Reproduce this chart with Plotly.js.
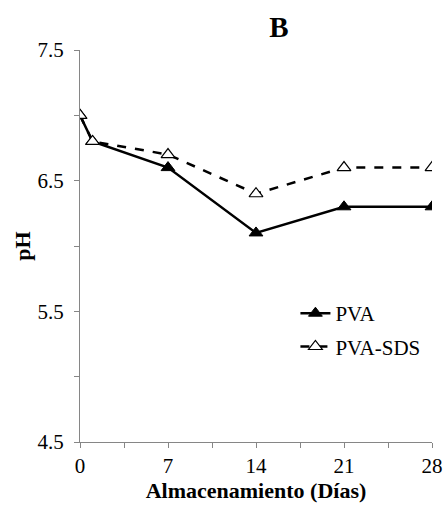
<!DOCTYPE html>
<html>
<head>
<meta charset="utf-8">
<script src="https://cdn.plot.ly/plotly-3.0.1.min.js"></script>
<style>
  html, body { margin: 0; padding: 0; background: #fff; }
  #chart { width: 446px; height: 506px; }
</style>
</head>
<body>
<div id="chart"></div>
<script>
// Storage time (days) and measured pH for each film formulation
const dias = [0, 1, 7, 14, 21, 28];
const phPVA = [7.0, 6.8, 6.6, 6.1, 6.3, 6.3];
const phPVASDS = [7.0, 6.8, 6.7, 6.4, 6.6, 6.6];
const nombres = ["PVA", "PVA-SDS"];
const xTicks = [0, 7, 14, 21, 28];
const yTicks = [4.5, 5.5, 6.5, 7.5];

const serif = "'Liberation Serif', 'Times New Roman', serif";

const traces = [
  {
    x: dias, y: phPVA, name: nombres[0], legendgroup: "a", type: "scatter", mode: "lines+markers",
    line: { color: "#000", width: 2.5 },
    marker: { symbol: "triangle-up", size: 12, color: "#000", line: { color: "#000", width: 1 } }
  },
  {
    x: dias, y: phPVASDS, name: nombres[1], legendgroup: "b", type: "scatter", mode: "lines+markers",
    line: { color: "#000", width: 2.5, dash: "dash" },
    marker: { symbol: "triangle-up", size: 12, color: "#fff", line: { color: "#000", width: 1.2 } }
  }
];

const axisCommon = {
  showgrid: false, zeroline: false, showline: true,
  linecolor: "#868686", linewidth: 1,
  ticks: "outside", ticklen: 5, tickcolor: "#868686", tickwidth: 1,
  tickfont: { family: serif, size: 21, color: "#000" }
};

const layout = {
  width: 446, height: 506,
  margin: { l: 80, r: 14, t: 50, b: 64 },
  paper_bgcolor: "#fff", plot_bgcolor: "#fff",
  font: { family: serif, color: "#000" },
  title: {
    text: "<b>B</b>", font: { family: serif, size: 29, color: "#000" },
    x: 0.565, xanchor: "center", xref: "paper", y: 0.947, yanchor: "middle"
  },
  xaxis: Object.assign({}, axisCommon, {
    range: [0, 28], tickvals: xTicks, ticktext: xTicks.map(String),
    minor: { dtick: 3.5, tick0: 0, ticks: "outside", ticklen: 5, tickcolor: "#868686", tickwidth: 1 },
    title: { text: "<b>Almacenamiento (Días)</b>", font: { family: serif, size: 22, color: "#000" }, standoff: 0 }
  }),
  yaxis: Object.assign({}, axisCommon, {
    range: [4.5, 7.5], tickvals: yTicks, ticktext: yTicks.map(v => v.toFixed(1)),
    ticklabelstandoff: 6,
    minor: { dtick: 0.5, tick0: 4.5, ticks: "outside", ticklen: 5, tickcolor: "#868686", tickwidth: 1 },
    title: { text: "<b>pH</b>", font: { family: serif, size: 22, color: "#000" }, standoff: 0 }
  }),
  showlegend: true,
  legend: {
    x: 0.612, y: 0.38, xanchor: "left", yanchor: "top",
    bgcolor: "rgba(0,0,0,0)", borderwidth: 0,
    font: { family: serif, size: 21, color: "#000" },
    tracegroupgap: 3, itemwidth: 30
  }
};

Plotly.newPlot("chart", traces, layout, { displayModeBar: false, staticPlot: true });
</script>
</body>
</html>
